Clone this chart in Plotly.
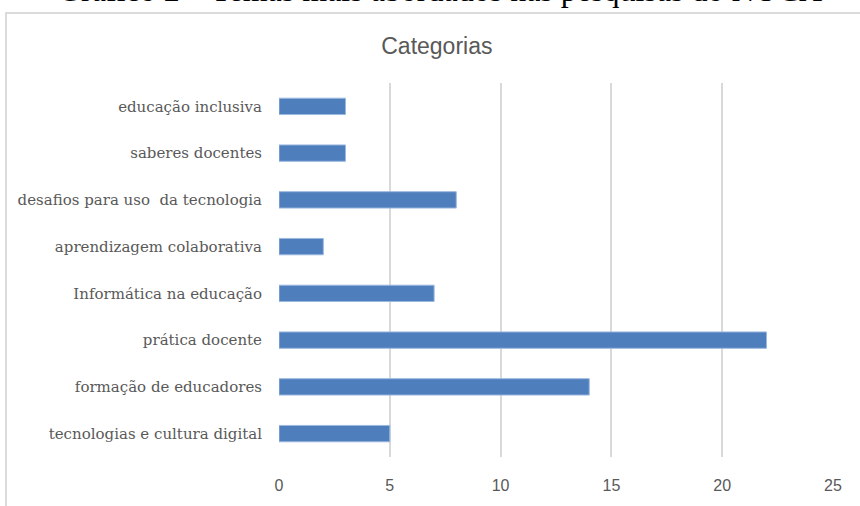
import plotly.graph_objects as go

categories = [
    "tecnologias e cultura digital",
    "formação de educadores",
    "prática docente",
    "Informática na educação",
    "aprendizagem colaborativa",
    "desafios para uso  da tecnologia",
    "saberes docentes",
    "educação inclusiva",
]
values = [5, 14, 22, 7, 2, 8, 3, 3]
x_ticks = [0, 5, 10, 15, 20, 25]

fig = go.Figure()
fig.add_trace(go.Bar(
    y=categories, x=values, orientation="h", width=0.35,
    marker=dict(color="#4F7EBD", line=dict(color="#9BB8E0", width=1)),
))

fig.update_layout(
    width=860, height=506,
    margin=dict(l=279, r=27, t=83, b=39),
    paper_bgcolor="white", plot_bgcolor="white",
    showlegend=False,
    title=dict(text="Categorias", x=0.508, xanchor="center", y=0.91, yanchor="middle",
               font=dict(family="Liberation Sans Narrow, Liberation Sans", size=23, color="#595959")),
    xaxis=dict(range=[0, 25], tickvals=x_ticks, showgrid=True, gridcolor="#D9D9D9", gridwidth=1.5,
               zeroline=False, showline=False, ticks="", ticklabelstandoff=17,
               tickfont=dict(family="Liberation Sans Narrow, Liberation Sans", size=16, color="#595959")),
    yaxis=dict(showgrid=False, zeroline=False, showline=False, ticks="", ticklabelstandoff=16,
               tickfont=dict(family="DejaVu Serif", size=15, color="#595959")),
    bargap=0.65,
)

# outer chart frame
fig.add_shape(type="rect", xref="paper", yref="paper",
              x0=(6 - 279) / 554, x1=(880 - 279) / 554,
              y0=-0.2, y1=(467 - 11) / 384,
              line=dict(color="#D0D0D0", width=1.5), fillcolor="rgba(0,0,0,0)", layer="below")

# cut-off document caption above the chart
fig.add_annotation(text="Gráfico 2 – Temas mais abordados nas pesquisas do NUCA",
                   xref="paper", yref="paper", x=(440 - 279) / 554, y=(467 - 8) / 384,
                   xanchor="center", yanchor="bottom", showarrow=False,
                   font=dict(family="Liberation Serif", size=32, color="black"))

fig.write_html("out.html")
